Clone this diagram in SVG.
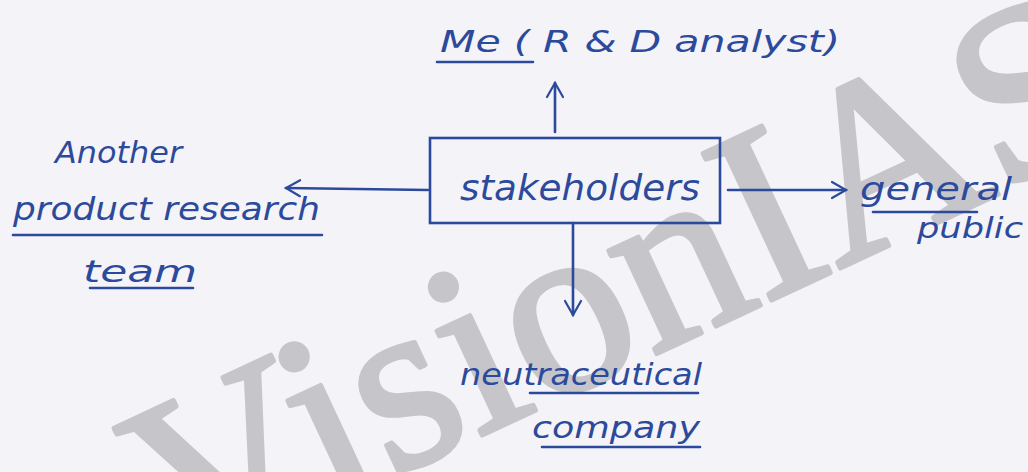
<svg xmlns="http://www.w3.org/2000/svg" width="1028" height="472" viewBox="0 0 1028 472">
<defs>
<marker id="ah" viewBox="0 0 20 20" refX="16" refY="10" markerWidth="20" markerHeight="20" markerUnits="userSpaceOnUse" orient="auto">
<path d="M2,2 L16,10 L2,18" fill="none" stroke="#2c4a9c" stroke-width="2.2" stroke-linecap="round"/>
</marker>
<style>
.ink{fill:#2c4a9c;font-family:"DejaVu Sans",sans-serif;font-style:italic}
.ln{stroke:#2c4a9c;stroke-width:2.6;fill:none;stroke-linecap:round}
.wm{fill:#c6c5ca;stroke:#c6c5ca;stroke-width:5;stroke-linejoin:round;font-family:"Liberation Serif",serif}
</style>
</defs>
<rect width="1028" height="472" fill="#f4f3f8"/>
<text class="wm" x="0" y="0" font-size="247" transform="translate(180,576) rotate(-25)">VisionIAS</text>
<g id="connectors">
<line class="ln" x1="555" y1="132" x2="555" y2="83" marker-end="url(#ah)"/>
<line class="ln" x1="428" y1="190" x2="286" y2="188" marker-end="url(#ah)"/>
<line class="ln" x1="728" y1="190" x2="846" y2="190" marker-end="url(#ah)"/>
<line class="ln" x1="573" y1="223" x2="573" y2="315" marker-end="url(#ah)"/>
</g>
<g id="stakeholders">
<rect class="ln" x="430" y="138" width="290" height="85"/>
<text class="ink" x="460" y="200" font-size="36" textLength="240" lengthAdjust="spacingAndGlyphs">stakeholders</text>
</g>
<g id="me">
<text class="ink" x="440" y="52" font-size="30" textLength="400" lengthAdjust="spacingAndGlyphs">Me ( R &amp; D analyst)</text>
<line class="ln" x1="437" y1="62" x2="533" y2="62"/>
</g>
<g id="team">
<text class="ink" x="55" y="163" font-size="30" textLength="127" lengthAdjust="spacingAndGlyphs">Another</text>
<text class="ink" x="13" y="220" font-size="32" textLength="307" lengthAdjust="spacingAndGlyphs">product research</text>
<line class="ln" x1="13" y1="235" x2="322" y2="235"/>
<text class="ink" x="83" y="282" font-size="30" textLength="114" lengthAdjust="spacingAndGlyphs">team</text>
<line class="ln" x1="90" y1="288" x2="193" y2="288"/>
</g>
<g id="public">
<text class="ink" x="860" y="200" font-size="32" textLength="152" lengthAdjust="spacingAndGlyphs">general</text>
<line class="ln" x1="873" y1="212" x2="977" y2="212"/>
<text class="ink" x="917" y="238" font-size="28" textLength="106" lengthAdjust="spacingAndGlyphs">public</text>
</g>
<g id="company">
<text class="ink" x="460" y="385" font-size="30" textLength="242" lengthAdjust="spacingAndGlyphs">neutraceutical</text>
<line class="ln" x1="530" y1="393" x2="698" y2="393"/>
<text class="ink" x="532" y="438" font-size="30" textLength="168" lengthAdjust="spacingAndGlyphs">company</text>
<line class="ln" x1="542" y1="447" x2="700" y2="447"/>
</g>
</svg>
